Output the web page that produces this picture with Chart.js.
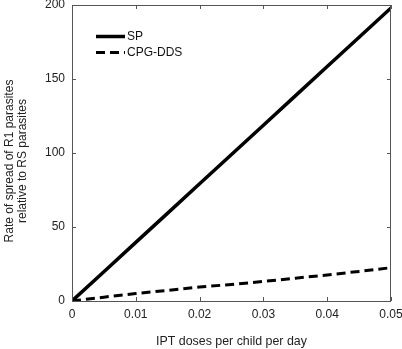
<!DOCTYPE html>
<html>
<head>
<meta charset="utf-8">
<script src="https://cdn.jsdelivr.net/npm/chart.js@4"></script>
<style>
  html, body { margin: 0; padding: 0; background: #fff; }
  #wrap { width: 402px; height: 349px; }
</style>
</head>
<body>
<div id="wrap"><canvas id="grafik" width="402" height="349"></canvas></div>
<script>
// data
const doses = [0, 0.005, 0.01, 0.015, 0.02, 0.025, 0.03, 0.035, 0.04, 0.045, 0.05];
const spRate = [0, 19.8, 39.6, 59.4, 79.2, 99, 118.8, 138.6, 158.4, 178.2, 198];
const cpgRate = [0, 2.6, 5, 7.2, 9.4, 11.2, 13.2, 15.4, 17.6, 20, 22.5];
const seriesNames = ['SP', 'CPG-DDS'];
const xTickLabels = ['0', '0.01', '0.02', '0.03', '0.04', '0.05'];
const yTickLabels = ['0', '50', '100', '150', '200'];
const xTitle = 'IPT doses per child per day';
const yTitle = ['Rate of spread of R1 parasites', 'relative to RS parasites'];

const font = 'Liberation Sans, Arial, sans-serif';

function pts(ys) {
  return doses.map((d, i) => ({ x: d, y: ys[i] }));
}

// frame + inward ticks on all four sides, legend inside plot, y title
const framePlugin = {
  id: 'frame',
  afterDraw(chart) {
    const { ctx, chartArea: a, scales } = chart;
    ctx.save();
    ctx.strokeStyle = '#555';
    ctx.lineWidth = 1;
    ctx.strokeRect(a.left + 0.5, a.top + 0.5, a.right - a.left - 1, a.bottom - a.top);
    const len = 4;
    ctx.beginPath();
    scales.x.ticks.forEach(t => {
      const px = Math.round(scales.x.getPixelForValue(t.value)) + 0.5;
      ctx.moveTo(px, a.bottom); ctx.lineTo(px, a.bottom - len);
      ctx.moveTo(px, a.top); ctx.lineTo(px, a.top + len);
    });
    scales.y.ticks.forEach(t => {
      const py = Math.round(scales.y.getPixelForValue(t.value)) + 0.5;
      ctx.moveTo(a.left, py); ctx.lineTo(a.left + len, py);
      ctx.moveTo(a.right, py); ctx.lineTo(a.right - len, py);
    });
    ctx.stroke();

    // legend
    ctx.font = '12px ' + font;
    ctx.textBaseline = 'middle';
    ctx.fillStyle = '#111';
    chart.data.datasets.forEach((ds, i) => {
      const y = a.top + 31.5 + i * 16;
      const x0 = a.left + 24;
      ctx.beginPath();
      ctx.strokeStyle = '#000';
      ctx.lineWidth = ds.borderWidth;
      ctx.setLineDash(ds.borderDash || []);
      ctx.moveTo(x0, y); ctx.lineTo(x0 + 29, y);
      ctx.stroke();
      ctx.setLineDash([]);
      ctx.fillText(ds.label, x0 + 31, y);
    });

    // y title (two lines, rotated)
    ctx.fillStyle = '#222';
    ctx.textAlign = 'center';
    ctx.translate(0, 161);
    ctx.rotate(-Math.PI / 2);
    yTitle.forEach((line, i) => ctx.fillText(line, 0, 10 + i * 13));
    ctx.restore();
  }
};

const ctx = document.getElementById('grafik').getContext('2d');
new Chart(ctx, {
  type: 'line',
  data: {
    datasets: [{
      label: seriesNames[0],
      data: pts(spRate),
      borderColor: '#000',
      borderWidth: 3.5,
      pointRadius: 0,
      fill: false
    }, {
      label: seriesNames[1],
      data: pts(cpgRate),
      borderColor: '#000',
      borderWidth: 3,
      borderDash: [9, 5],
      pointRadius: 0,
      fill: false
    }]
  },
  options: {
    responsive: false,
    animation: false,
    layout: { padding: { top: 5, right: 11, left: 0, bottom: 0 } },
    plugins: { legend: { display: false }, tooltip: { enabled: false } },
    scales: {
      x: {
        type: 'linear',
        min: 0, max: 0.05,
        grid: { display: false, drawTicks: false },
        border: { display: false },
        ticks: {
          stepSize: 0.01,
          padding: 6,
          color: '#222',
          font: { family: font, size: 12 },
          callback: v => xTickLabels[Math.round(v / 0.01)]
        },
        title: {
          display: true,
          text: xTitle,
          color: '#222',
          font: { family: font, size: 12.4 },
          padding: { top: 16, bottom: 0 }
        },
        afterFit: s => {
          s.height = 48;
          s.paddingLeft = 0;
          s.paddingRight = 0;
        }
      },
      y: {
        min: 0, max: 200,
        grid: { display: false, drawTicks: false },
        border: { display: false },
        ticks: {
          stepSize: 50,
          padding: 7,
          color: '#222',
          font: { family: font, size: 12 },
          callback: v => yTickLabels[Math.round(v / 50)]
        },
        afterFit: s => {
          s.width = 72;
          s.paddingTop = 0;
          s.paddingBottom = 0;
        }
      }
    }
  },
  plugins: [framePlugin]
});
</script>
</body>
</html>
